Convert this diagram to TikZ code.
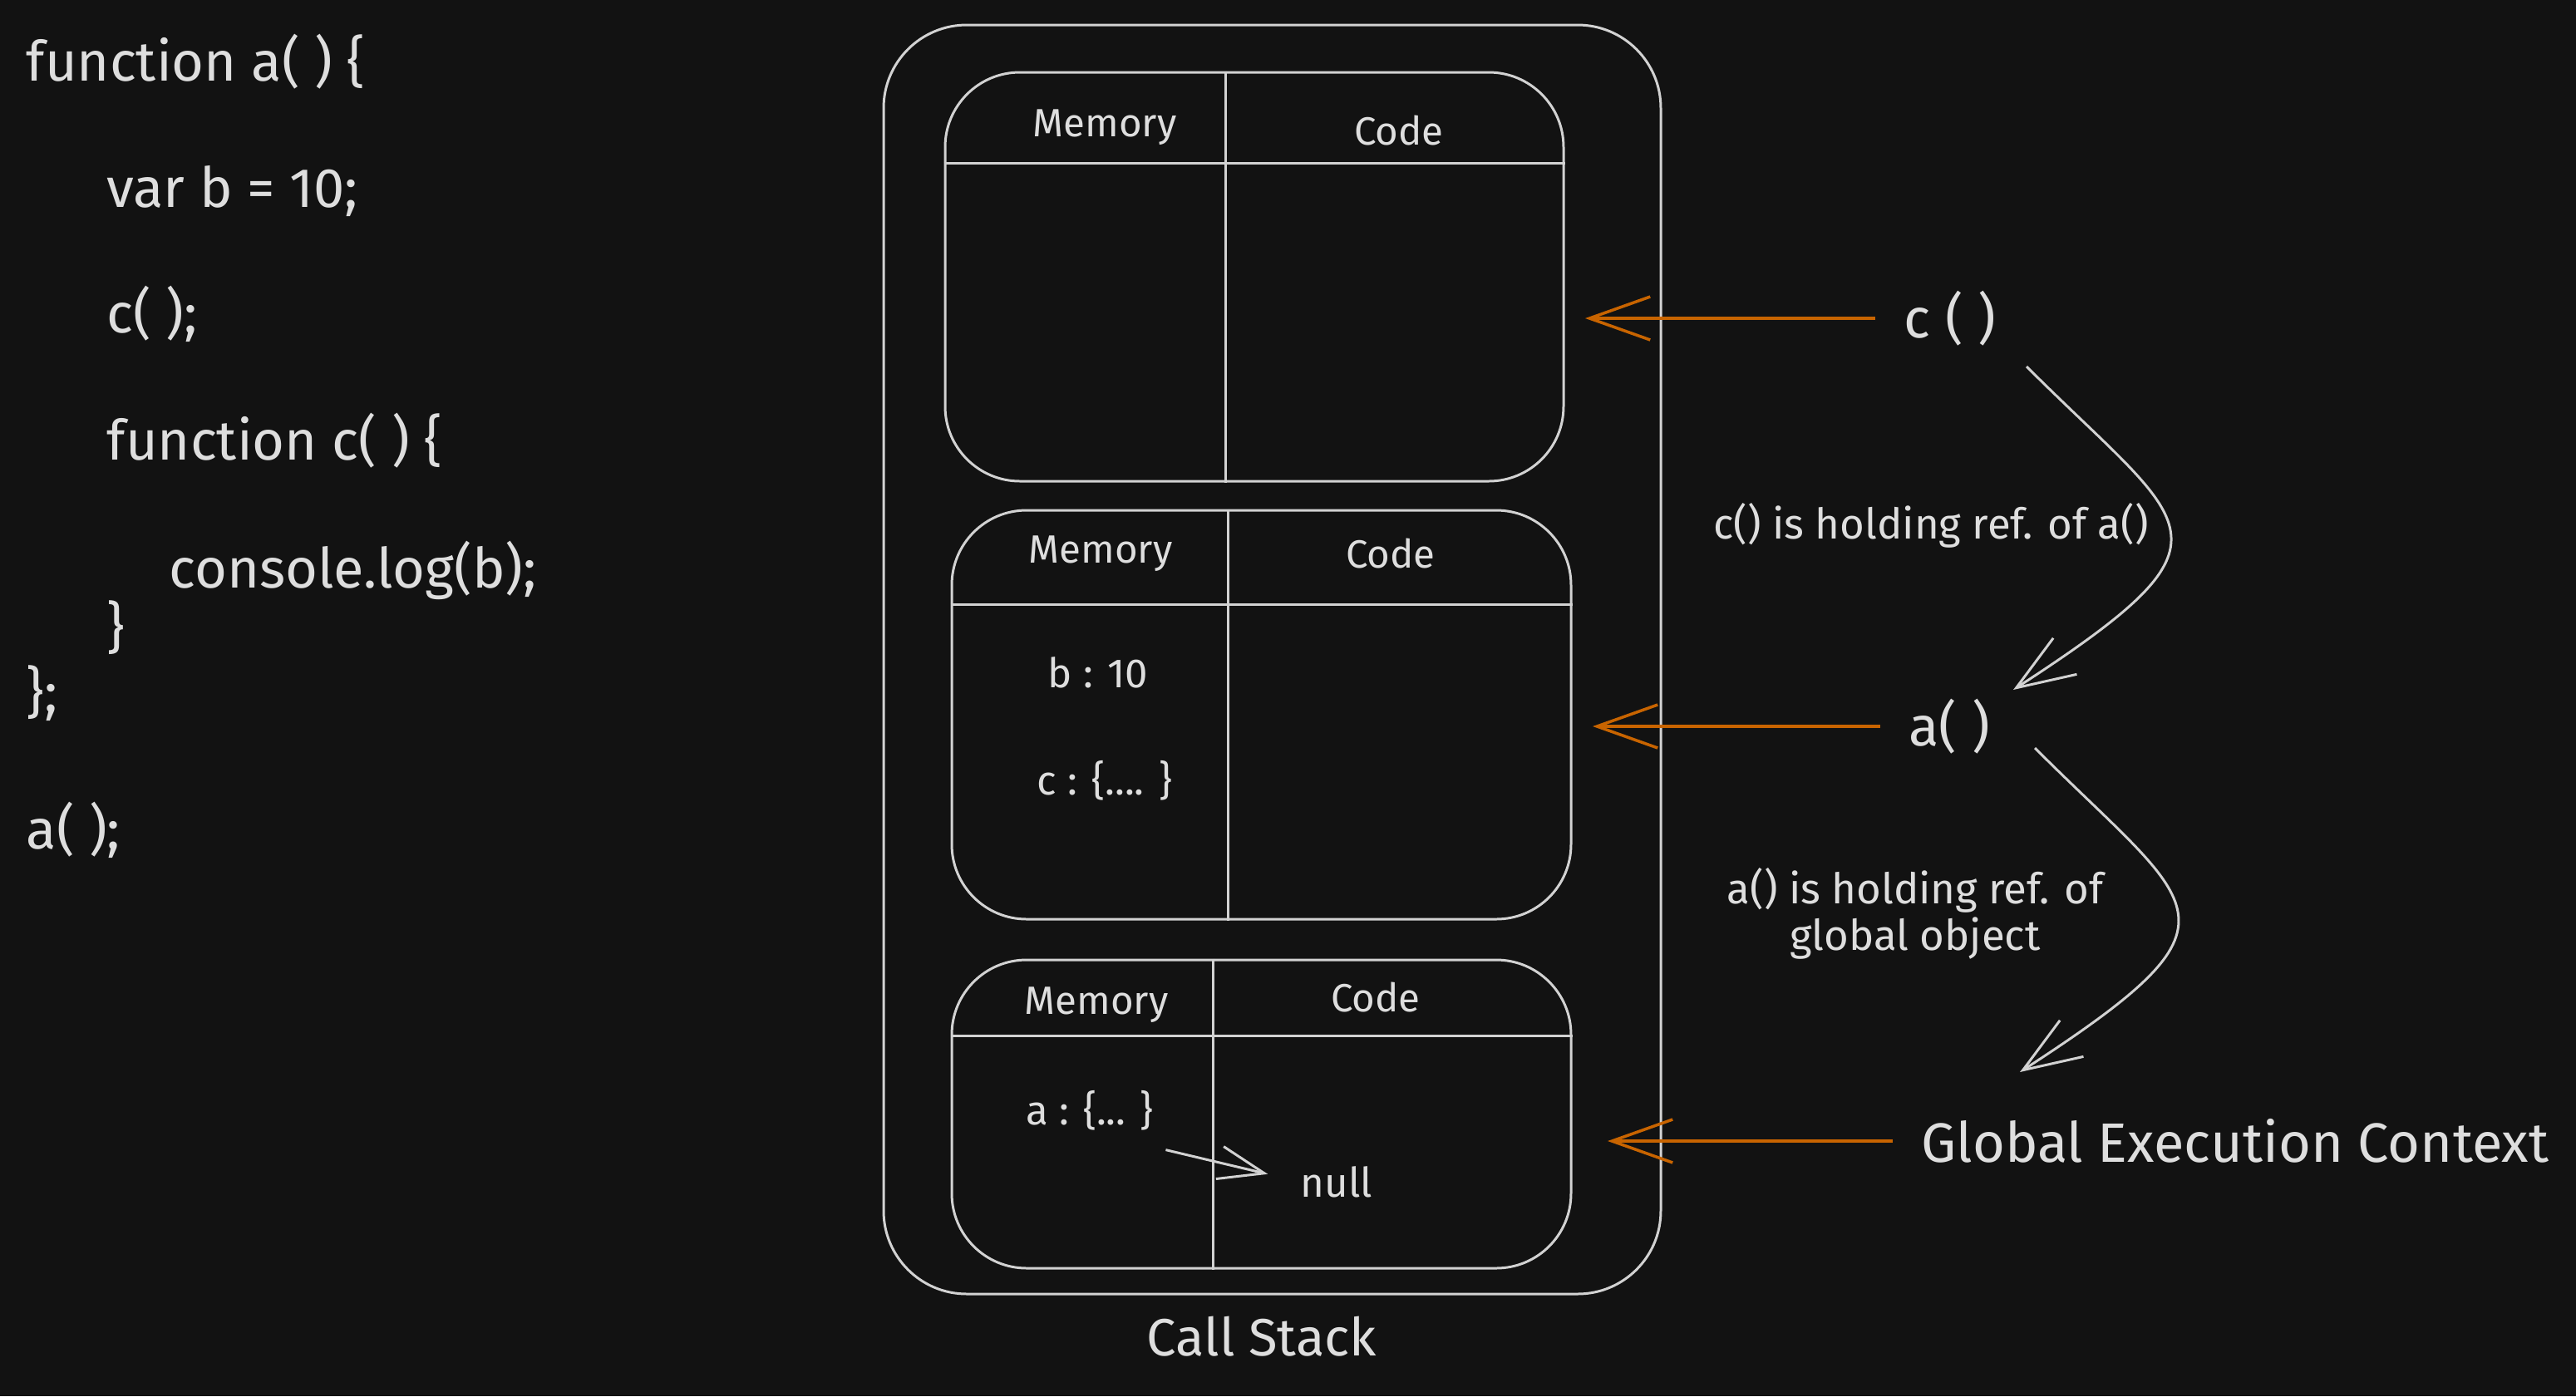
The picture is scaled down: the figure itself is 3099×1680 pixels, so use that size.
\documentclass[tikz,border=0pt]{standalone}
\usepackage{fontspec}
\setmainfont{Fira Sans}
\usepackage{xcolor}
\usetikzlibrary{arrows.meta,calc,positioning}
\definecolor{bgdark}{HTML}{121212}
\definecolor{ink}{HTML}{DEDEDE}
\definecolor{wire}{HTML}{D2D2D2}
\definecolor{pushorange}{HTML}{C86400}

\begin{document}
\begin{tikzpicture}[x=0.1mm, y=-0.1mm,
  frame/.style={draw=wire, line width=0.85pt, rounded corners=9mm, inner sep=0pt},
  rule/.style={draw=wire, line width=0.85pt},
  code/.style={anchor=base west, inner sep=0pt, text=ink, font=\fontsize{19}{23}\selectfont},
  head/.style={text=ink, inner sep=0pt, font=\fontsize{13.5}{16}\selectfont},
  entry/.style={text=ink, inner sep=0pt, font=\fontsize{14}{17}\selectfont},
  fn/.style={text=ink, inner sep=0pt, font=\fontsize{19}{23}\selectfont},
  note/.style={text=ink, inner sep=0pt, align=center, font=\fontsize{14.5}{16}\selectfont},
  push/.style={draw=pushorange, line width=1pt, -{Straight Barb[length=7.3mm, width=5.2mm]}, shorten <=3.4mm},
  ref/.style={draw=wire, line width=0.85pt, -{Straight Barb[length=7mm, width=5.2mm]}}]
\fill[bgdark] (0,0) rectangle (3099,1680);
\useasboundingbox (0,0) rectangle (3099,1680);

% source code
\node[code] (fnA) at (31,97) {function a( ) \{};
\node[code] (varB) at (128,249) {var b = 10;};
\node[code] (callC) at (128,400) {c( );};
\node[code] (fnC) at (128,553) {function c( ) \{};
\node[code] (logB) at (203,707) {console.log(b);};
\node[code] (closeC) at (128,778) {\}};
\node[code] (closeA) at (31,856) {\};};
\node[code] (callA) at (31,1021) {a( );};

% call stack
\node[frame, rounded corners=10mm, minimum width=93.5mm, minimum height=152.7mm] (stack) at (1530.5,793.5) {};
\node[text=ink, font=\fontsize{18}{21}\selectfont] (stacklbl) at (1518,1608) {Call Stack};

% execution context of c
\node[frame, minimum width=74.4mm, minimum height=49.2mm] (ctxC) at (1509,333) {};
\draw[rule] ([yshift=-11.1mm]ctxC.north west) -- ([yshift=-11.1mm]ctxC.north east);
\draw[rule] ([xshift=33.9mm]ctxC.north west) -- ([xshift=33.9mm]ctxC.south west);
\node[head] (memC) at (1329,153) {Memory};
\node[head] (codeC) at (1683,157) {Code};

% execution context of a
\node[frame, minimum width=74.5mm, minimum height=49.2mm] (ctxA) at (1517.5,860) {};
\draw[rule] ([yshift=-11.5mm]ctxA.north west) -- ([yshift=-11.5mm]ctxA.north east);
\draw[rule] ([xshift=33.4mm]ctxA.north west) -- ([xshift=33.4mm]ctxA.south west);
\node[head] (memA) at (1324,666) {Memory};
\node[head] (codeA) at (1673,666) {Code};
\node[entry] (bval) at (1321,809) {b : 10};
\node[entry] (cval) at (1329,939) {c : \{.... \}};

% global execution context
\node[frame, minimum width=74.5mm, minimum height=37.1mm] (ctxG) at (1517.5,1340.5) {};
\draw[rule] ([yshift=-9.3mm]ctxG.north west) -- ([yshift=-9.3mm]ctxG.north east);
\draw[rule] ([xshift=31.6mm]ctxG.north west) -- ([xshift=31.6mm]ctxG.south west);
\node[head] (memG) at (1319,1209) {Memory};
\node[head] (codeG) at (1655,1200) {Code};
\node[entry] (aval) at (1311,1336) {a : \{... \}};
\node[entry] (nullval) at (1608,1422) {null};
\draw[rule, -{Straight Barb[length=5.5mm, width=4mm]}, shorten >=4mm]
  ([shift={(1.4mm,-2.3mm)}]aval.south east) -- (nullval.west);

% functions pushed on the stack
\node[fn] (cfun) at (2346,383) {c ( )};
\node[fn] (afun) at (2345,874) {a( )};
\node[fn] (gec) at (2689,1373) {Global Execution Context};
\coordinate (slotC) at (1907,383);
\coordinate (slotA) at (1916,874);
\coordinate (slotG) at (1934,1373);
\draw[push] (cfun.west) -- (slotC);
\draw[push] (afun.west) -- (slotA);
\draw[push] (gec.west) -- (slotG);

% references
\draw[ref] ([shift={(9.2mm,-5.8mm)}]cfun.center) .. controls +(19.7mm,-19.7mm) and +(28.5mm,18.5mm) .. ([shift={(7.7mm,4.4mm)}]afun.center);
\draw[ref] ([shift={(10.3mm,-2.6mm)}]afun.center) .. controls +(19.7mm,-19.7mm) and +(28.5mm,18.5mm) .. ([shift={(-25.9mm,8.3mm)}]gec.center);
\node[note] (refC) at (2323,632) {c() is holding ref. of a()};
\node[note] (refA) at (2304,1099) {a() is holding ref. of\\global object};
\end{tikzpicture}
\end{document}
